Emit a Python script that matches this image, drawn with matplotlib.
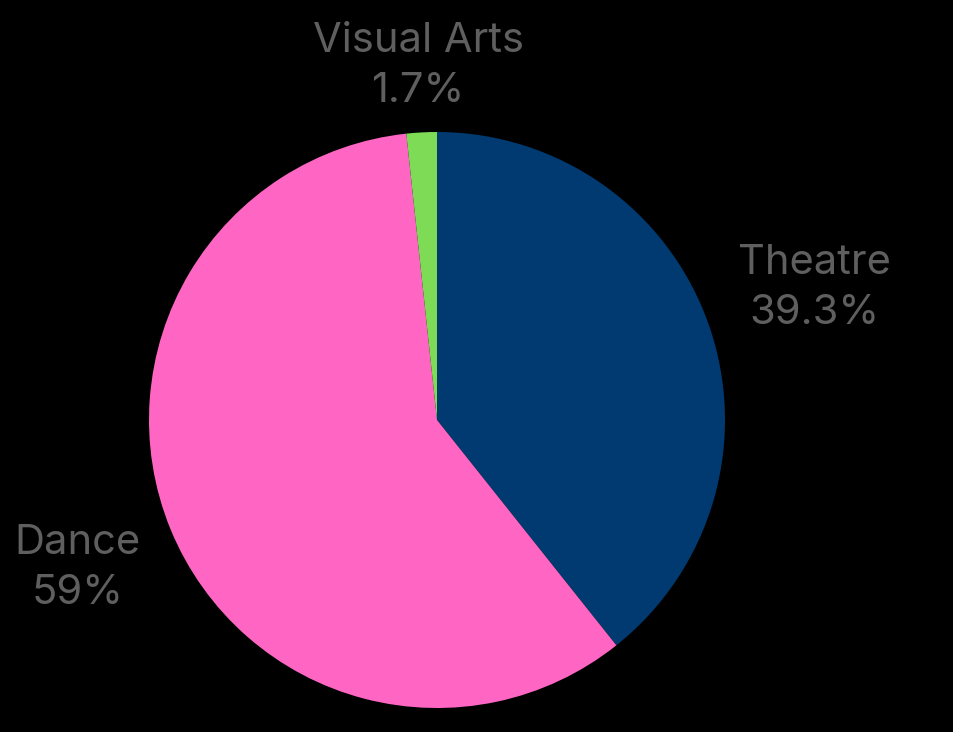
import matplotlib.pyplot as plt
import numpy as np

labels = ["Theatre", "Dance", "Visual Arts"]
shares = [39.3, 59.0, 1.7]
pct_text = ["39.3%", "59%", "1.7%"]
colors = ["#003a70", "#ff66c4", "#7ddb55"]
# how far out each label sits (in radii)
label_dist = [1.39, 1.35, 1.23]

W, H = 954, 732
fig = plt.figure(figsize=(W / 100, H / 100), dpi=100, facecolor="black")
ax = fig.add_axes([0, 0, 1, 1])
ax.set_facecolor("black")

cx, cy, r = 437, H - 420, 288
wedges, _ = ax.pie(shares, colors=colors, startangle=90, counterclock=False,
                   center=(cx, cy), radius=r, frame=True)
ax.set_xlim(0, W)
ax.set_ylim(0, H)
ax.set_aspect("equal")
ax.axis("off")

for w, lab, pct, d in zip(wedges, labels, pct_text, label_dist):
    ang = np.deg2rad((w.theta1 + w.theta2) / 2)
    x = cx + d * r * np.cos(ang)
    y = cy + d * r * np.sin(ang)
    ax.text(x, y, lab + "\n" + pct, ha="center", va="center",
            fontsize=30, color="#5f5f5f", family="Inter", linespacing=1.4)

fig.savefig("out.png", dpi=100, facecolor="black")
